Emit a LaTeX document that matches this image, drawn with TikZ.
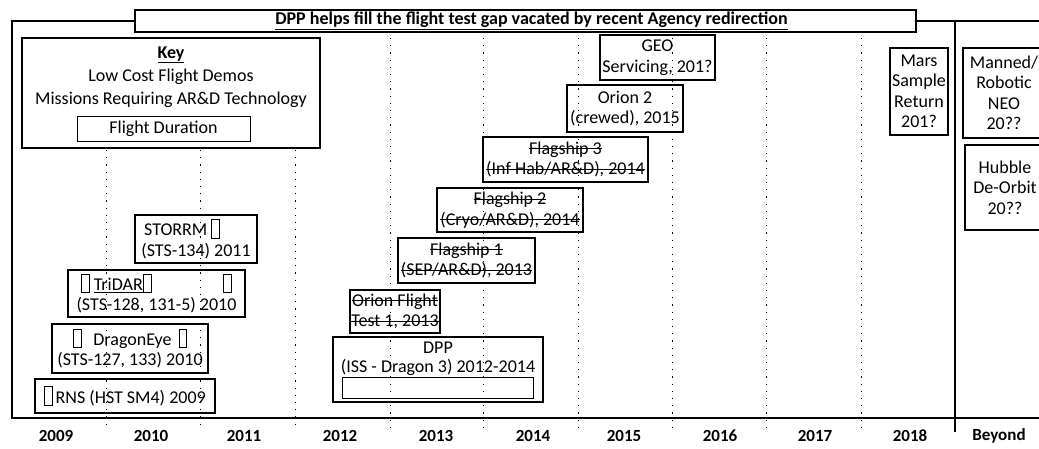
\documentclass[tikz,border=0pt]{standalone}
\usepackage{fontspec}
\setmainfont{Carlito}
\usepackage{tikz}
\usetikzlibrary{calc}

% empty glyph box as printed in the scan
\newcommand{\nochar}{\raisebox{-2pt}{\setlength{\fboxsep}{0pt}\setlength{\fboxrule}{0.7pt}\fbox{\rule{0pt}{18pt}\hspace{7pt}}}}
% struck-out text
\newsavebox{\strikebox}
\newcommand{\strikeout}[1]{\sbox{\strikebox}{#1}\rlap{\usebox{\strikebox}}\rule[0.27em]{\wd\strikebox}{1pt}}

\begin{document}
\begin{tikzpicture}[x=1pt, y=-1pt, font=\fontsize{18}{20.5}\selectfont,
	box/.style={draw, line width=1.6pt, inner sep=0pt, align=center},
	bar/.style={draw, line width=0.7pt, inner sep=0pt},
	yeargrid/.style={line width=1pt, dash pattern=on 1.2pt off 6pt},
	yearlab/.style={font=\fontsize{17}{20}\selectfont\bfseries}]
	\useasboundingbox (0,0) rectangle (1039,448);
	%%% frame and title
	\node[box, line width=1.2pt, minimum width=781pt, minimum height=22pt, font=\fontsize{18}{20}\selectfont\bfseries] (title) at (525.5,21)
		{\hspace*{12pt}\underline{DPP helps fill the flight test gap vacated by recent Agency redirection}};
	\draw[line width=1.2pt] (title.west) -- (12,21) -- (12,418) -- (1039,418);
	\draw[line width=1.2pt] (title.east) -- (1039,21);
	\draw[line width=1.2pt] (955,21) -- (955,432);
	% year grid
	\foreach \gx in {106,200,295}
		\draw[yeargrid] (\gx,150) -- (\gx,428);
	\foreach \gx in {390,483,578,672,766,861}
		\draw[yeargrid] (\gx,38) -- (\gx,428);
	\foreach \yr/\yx in {2009/56, 2010/151, 2011/244, 2012/340, 2013/436, 2014/533, 2015/624, 2016/720, 2017/815, 2018/910, Beyond/999}
		\node[yearlab, inner sep=0pt] (y\yr) at (\yx,436) {\yr};
	%%% key
	\node[box, minimum width=298pt, minimum height=110pt] (key) at (171,93) {};
	\node[font=\fontsize{18}{20}\selectfont\bfseries] (keyhead) at (171,55) {\underline{Key}};
	\node (keylow) at (171,77) {Low Cost Flight Demos};
	\node (keyard) at (171,100) {Missions Requiring AR\&D Technology};
	\node[bar, minimum width=173pt, minimum height=25pt] (keydur) at (163.5,128.5) {Flight Duration};
	%%% low cost flight demos
	\node[box, minimum width=122pt, minimum height=48pt] (storrm) at (196,239)
		{STORRM \nochar\hspace*{28pt}\\(STS-134) 2011};
	\node[box, minimum width=177pt, minimum height=47pt] (tridar) at (156.5,293.5)
		{\nochar\hspace{4pt}\underline{TriDAR}\nochar\hspace{72pt}\nochar\\(STS-128, 131-5) 2010};
	\node[box, minimum width=156pt, minimum height=49pt] (dragoneye) at (130,348.5)
		{\nochar\hspace{12pt}DragonEye\hspace{7pt}\nochar\\(STS-127, 133) 2010};
	\node[box, minimum width=180pt, minimum height=34pt] (rns) at (125,396)
		{\nochar\hspace{3pt}RNS (HST SM4) 2009};
	%%% DPP
	\node[box, minimum width=210pt, minimum height=65pt] (dpp) at (438,369.5) {};
	\node[align=center, inner sep=0pt, font=\fontsize{18}{19}\selectfont] (dpptxt) at (438,359) {DPP\\(ISS - Dragon 3) 2012-2014};
	\node[bar, minimum width=191pt, minimum height=21pt] (dppbar) at (437.5,387.5) {};
	%%% missions requiring AR&D
	\node[box, minimum width=90pt, minimum height=43pt] (orionft) at (395,311.5)
		{\strikeout{Orion Flight}\\\strikeout{Test 1, 2013}};
	\node[box, minimum width=137pt, minimum height=45pt] (flag1) at (466.5,260.5)
		{\strikeout{Flagship 1}\\\strikeout{(SEP/AR\&D), 2013}};
	\node[box, minimum width=146pt, minimum height=44pt] (flag2) at (510,210)
		{\strikeout{Flagship 2}\\\strikeout{(Cryo/AR\&D), 2014}};
	\node[box, minimum width=165pt, minimum height=45pt] (flag3) at (565.5,159.5)
		{\strikeout{Flagship 3}\\\strikeout{(Inf Hab/AR\&D), 2014}};
	\node[box, minimum width=116pt, minimum height=47pt] (orion2) at (625,108.5)
		{Orion 2\\(crewed), 2015};
	\node[box, minimum width=115pt, minimum height=45pt] (geo) at (657.5,57.5)
		{GEO\\Servicing, 201?};
	\node[box, minimum width=58pt, minimum height=87pt] (mars) at (919,91.5)
		{Mars\\Sample\\Return\\201?};
	%%% beyond
	\node[box, minimum width=82pt, minimum height=90pt] (neo) at (1004,93)
		{Manned/\\Robotic\\NEO\\20??};
	\node[box, minimum width=80pt, minimum height=85pt] (hubble) at (1005,187.5)
		{Hubble\\De-Orbit\\20??};
\end{tikzpicture}
\end{document}
